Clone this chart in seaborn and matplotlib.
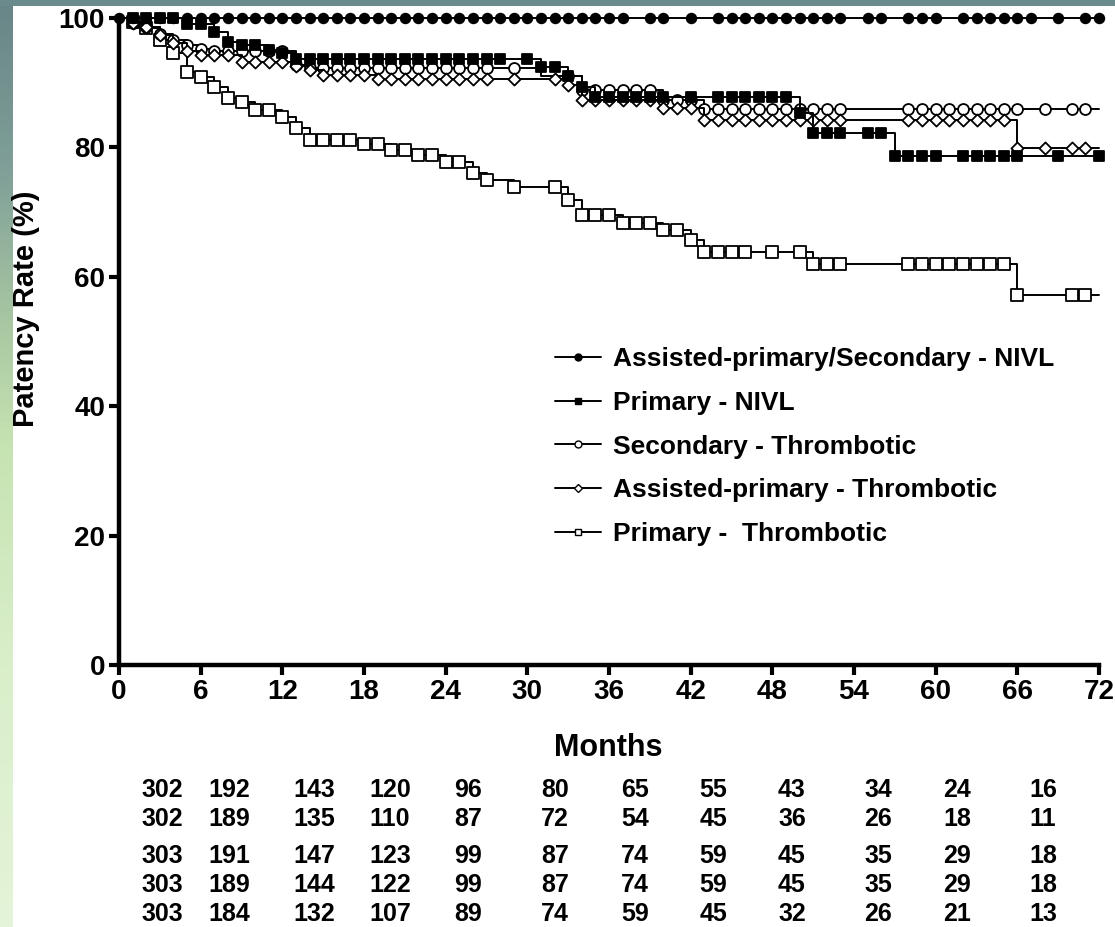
import numpy as np
import pandas as pd
import matplotlib
matplotlib.use("Agg")
import matplotlib.pyplot as plt
from matplotlib.lines import Line2D
from matplotlib.colors import LinearSegmentedColormap
import seaborn as sns

# ---------------- data ----------------
x_ticks = list(range(0, 73, 6))
y_ticks = [0, 20, 40, 60, 80, 100]

labels = ["Assisted-primary/Secondary - NIVL", "Primary - NIVL",
          "Secondary - Thrombotic", "Assisted-primary - Thrombotic",
          "Primary -  Thrombotic"]

# Kaplan-Meier steps: event month -> patency (%) after the event
nivl_sec_t = [0]
nivl_sec_s = [100]
nivl_sec_marks = list(range(0, 38)) + [39, 40, 42] + list(range(44, 54)) + \
    [55, 56, 58, 59, 60] + list(range(62, 68)) + [69, 71, 72]

nivl_pri_t = [0, 5, 7, 8, 9, 11, 12, 13, 31, 33, 34, 35, 50, 51, 57]
nivl_pri_s = [100, 99.0, 97.8, 96.3, 95.8, 95.0, 94.6, 93.6, 92.4, 91.0, 89.4,
              87.8, 85.3, 82.3, 78.6]
nivl_pri_marks = list(range(1, 29)) + [30, 31, 32, 33, 34] + list(range(35, 41)) + \
    [42] + list(range(44, 54)) + [55, 56, 57, 58, 59, 60] + list(range(62, 67)) + [69, 72]

thr_sec_t = [0, 1, 2, 3, 4, 5, 6, 7, 13, 14, 31, 34, 40, 43]
thr_sec_s = [100, 99.3, 98.6, 97.6, 96.6, 95.9, 95.2, 94.9, 92.8, 92.3, 91.0,
             88.9, 87.3, 86.0]
thr_sec_marks = list(range(1, 28)) + [29, 33] + list(range(34, 54)) + \
    list(range(58, 67)) + [68, 70, 71]

thr_ap_t = [0, 1, 2, 3, 4, 5, 6, 9, 13, 14, 15, 19, 33, 34, 40, 43, 66]
thr_ap_s = [100, 99.3, 98.6, 97.3, 96.2, 94.9, 94.3, 93.2, 92.6, 91.9, 91.2,
            90.5, 89.6, 87.3, 86.1, 84.3, 79.9]
thr_ap_marks = list(range(1, 28)) + [29, 32, 33] + list(range(34, 54)) + \
    list(range(58, 67)) + [68, 70, 71]

thr_pri_t = [0, 1, 2, 3, 4, 5, 6, 7, 8, 9, 10, 12, 13, 14, 18, 20, 22, 24, 26,
             27, 29, 33, 34, 37, 40, 42, 43, 51, 66]
thr_pri_s = [100, 99.4, 98.5, 96.6, 94.6, 91.7, 90.9, 89.3, 87.6, 87.0, 85.8,
             84.7, 83.0, 81.1, 80.6, 79.6, 78.8, 77.7, 76.0, 75.0, 73.9, 71.9,
             69.6, 68.3, 67.2, 65.7, 63.9, 62.0, 57.2]
thr_pri_marks = list(range(1, 28)) + [29, 32, 33, 34, 35, 36, 37, 38, 39, 40, 41,
                                      42, 43, 44, 45, 46, 48, 50, 51, 52, 53] + \
    list(range(58, 67)) + [70, 71]

risk_rows = [
    [302, 192, 143, 120, 96, 80, 65, 55, 43, 34, 24, 16],
    [302, 189, 135, 110, 87, 72, 54, 45, 36, 26, 18, 11],
    [303, 191, 147, 123, 99, 87, 74, 59, 45, 35, 29, 18],
    [303, 189, 144, 122, 99, 87, 74, 59, 45, 35, 29, 18],
    [303, 184, 132, 107, 89, 74, 59, 45, 32, 26, 21, 13],
]

# ---------------- style ----------------
sns.set_style("ticks")
plt.rcParams['font.family'] = ['Liberation Sans', 'DejaVu Sans']
plt.rcParams.update({"text.color": "black", "axes.labelcolor": "black",
                     "xtick.color": "black", "ytick.color": "black",
                     "axes.edgecolor": "black"})

W, H = 1115, 927
fig = plt.figure(figsize=(W / 100, H / 100), dpi=100)
fig.patch.set_facecolor("white")

# decorative background strips
strip = fig.add_axes([0, 0, 13 / W, 1])
cmap = LinearSegmentedColormap.from_list(
    "bg", [(0, "#688687"), (0.18, "#7f9f98"), (0.35, "#a9c8a2"),
           (0.48, "#c6e3b2"), (0.7, "#d8eec8"), (1, "#e4f4d8")])
strip.imshow(np.linspace(0, 1, 200).reshape(-1, 1), aspect="auto", cmap=cmap)
strip.axis("off")
top = fig.add_axes([0, 1 - 6 / H, 1, 6 / H])
top.set_facecolor("#6a8a8b")
top.set_xticks([]); top.set_yticks([])
for s in top.spines.values():
    s.set_visible(False)

x0, x1 = 119, 1099
y0, y1 = 665, 18
ax = fig.add_axes([x0 / W, 1 - y0 / H, (x1 - x0) / W, (y0 - y1) / H])
ax.set_facecolor("none")

series = [
    (nivl_sec_t, nivl_sec_s, nivl_sec_marks, "o", "black", 48, 6),
    (nivl_pri_t, nivl_pri_s, nivl_pri_marks, "s", "black", 60, 5),
    (thr_sec_t, thr_sec_s, thr_sec_marks, "o", "white", 62, 3),
    (thr_ap_t, thr_ap_s, thr_ap_marks, "D", "white", 38, 4),
    (thr_pri_t, thr_pri_s, thr_pri_marks, "s", "white", 66, 2),
]

for t, s, marks, mk, fc, size, z in series:
    df = pd.DataFrame({"Months": list(t) + [72], "Rate": list(s) + [s[-1]]})
    sns.lineplot(data=df, x="Months", y="Rate", drawstyle="steps-post",
                 estimator=None, sort=False, color="black", lw=1.4, ax=ax,
                 zorder=z, clip_on=False)
    t_arr = np.array(t, dtype=float)
    s_arr = np.array(s, dtype=float)
    m_arr = np.array(marks, dtype=float)
    m_val = s_arr[np.searchsorted(t_arr, m_arr, side="right") - 1]
    sns.scatterplot(x=m_arr, y=m_val, marker=mk, s=size, color=fc,
                    edgecolor="black", linewidth=1.3, ax=ax, zorder=z + 0.5,
                    clip_on=False, legend=False)

ax.set_xlim(0, 72)
ax.set_ylim(0, 100)
ax.set_xticks(x_ticks)
ax.set_yticks(y_ticks)
sns.despine(ax=ax)
for sp in ["left", "bottom"]:
    ax.spines[sp].set_linewidth(3.2)
    ax.spines[sp].set_color("black")
ax.tick_params(direction="out", length=7, width=3, labelsize=20, pad=3,
               colors="black")
for lbl in ax.get_xticklabels() + ax.get_yticklabels():
    lbl.set_fontweight("bold")

ax.set_xlabel("Months", fontsize=22, fontweight="bold", color="black")
ax.xaxis.set_label_coords((608 - x0) / (x1 - x0), (y0 - 733) / (y0 - y1))
ax.set_ylabel("Patency Rate (%)", fontsize=21, fontweight="bold", color="black")
ax.yaxis.set_label_coords((40 - x0) / (x1 - x0), (y0 - 309) / (y0 - y1))

handles = [
    Line2D([0], [0], color="black", lw=1.4, marker="o", ms=5, mfc="black", mec="black"),
    Line2D([0], [0], color="black", lw=1.4, marker="s", ms=5, mfc="black", mec="black"),
    Line2D([0], [0], color="black", lw=1.4, marker="o", ms=5, mfc="white", mec="black"),
    Line2D([0], [0], color="black", lw=1.4, marker="D", ms=4, mfc="white", mec="black"),
    Line2D([0], [0], color="black", lw=1.4, marker="s", ms=5, mfc="white", mec="black"),
]
leg = ax.legend(handles=handles, labels=labels, loc="upper left",
                bbox_to_anchor=((555 - x0) / (x1 - x0), (y0 - 347) / (y0 - y1)),
                frameon=False, prop={"weight": "bold", "size": 19},
                handlelength=1.75, handletextpad=0.45, labelspacing=0.75,
                borderpad=0, borderaxespad=0)
for txt in leg.get_texts():
    txt.set_color("black")

# numbers at risk
col_x = [162, 229, 314, 390, 468, 555, 635, 713, 792, 878, 957, 1043]
row_y = [790, 819, 856, 885, 914]
for r, yy in zip(risk_rows, row_y):
    for v, xx in zip(r, col_x):
        fig.text(xx / W, 1 - yy / H, str(v), ha="center", va="center",
                 fontsize=18, fontweight="bold", color="black")

fig.savefig("out.png", dpi=100)
